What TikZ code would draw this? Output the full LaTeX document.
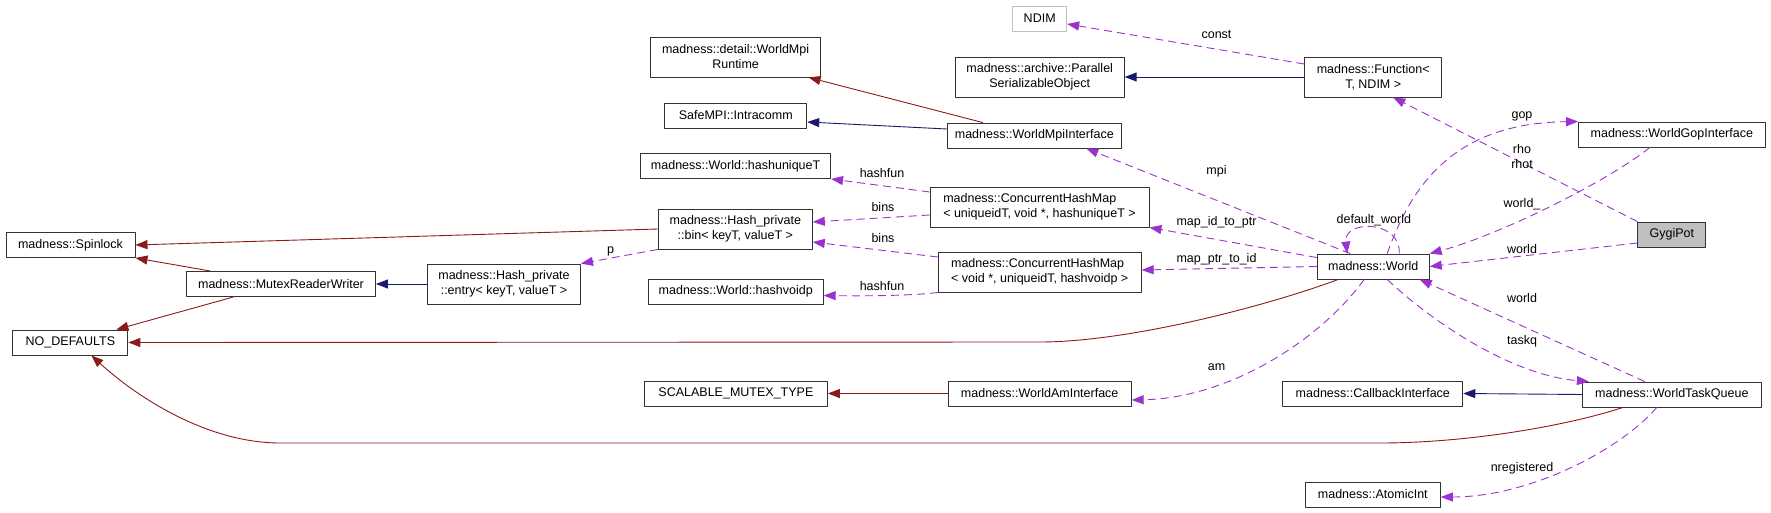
\documentclass[tikz,border=0pt]{standalone}
\usepackage{fontspec}
\setmainfont{Liberation Sans}
\usepackage{tikz}
\usetikzlibrary{arrows.meta,calc}
\definecolor{ColPriv}{RGB}{139,26,26}
\definecolor{ColPub}{RGB}{25,25,112}
\definecolor{ColUse}{RGB}{154,50,205}
\definecolor{ColGray}{RGB}{191,191,191}

\begin{document}
\begin{tikzpicture}[
  x=1pt, y=-1pt,
  >={Triangle[length=12pt,width=9pt]},
  line join=round,
  every node/.style={font=\fontsize{12.5}{15}\selectfont},
  box/.style={draw=black!80, line width=0.9pt, fill=white, inner sep=0pt,
    align=center, minimum height=25pt},
  tallbox/.style={box, minimum height=40pt},
  priv/.style={->, line width=0.9pt, ColPriv},
  pub/.style={->, line width=0.9pt, ColPub},
  uses/.style={->, line width=0.9pt, ColUse, dash pattern=on 8pt off 5pt},
  lbl/.style={inner sep=0pt, text=black, text height=9pt, text depth=2.5pt},
  lbltwo/.style={inner sep=0pt, text=black, align=center}
]
  \useasboundingbox (0,0) rectangle (1771,513);

  % base classes on the left
  \node[box, minimum width=129pt] (spin) at (70.5,245) {madness::Spinlock};
  \node[box, minimum width=115pt] (nodef) at (70.4,342.5) {NO\_DEFAULTS};
  \node[box, minimum width=189pt] (mrw) at (281,284) {madness::MutexReaderWriter};
  \node[tallbox, minimum width=153pt] (entry) at (504,284) {madness::Hash\_private\\::entry< keyT, valueT >};

  % second column
  \node[tallbox, minimum width=170pt] (rt) at (735.6,57) {madness::detail::WorldMpi\\Runtime};
  \node[box, minimum width=142pt] (intra) at (735.8,115.5) {SafeMPI::Intracomm};
  \node[box, minimum width=190pt] (huniq) at (735.6,166) {madness::World::hashuniqueT};
  \node[tallbox, minimum width=154pt] (bin) at (735.3,229) {madness::Hash\_private\\::bin< keyT, valueT >};
  \node[box, minimum width=175pt] (hvoid) at (735.7,291.5) {madness::World::hashvoidp};
  \node[box, minimum width=183pt] (scal) at (735.9,393.5) {SCALABLE\_MUTEX\_TYPE};

  % third column
  \node[box, minimum width=54pt, draw=ColGray] (ndim) at (1039.7,18.5) {NDIM};
  \node[tallbox, minimum width=169pt] (pso) at (1039.7,77) {madness::archive::Parallel\\SerializableObject};
  \node[box, minimum width=174pt] (wmi) at (1034.3,135.5) {madness::WorldMpiInterface};
  \node[tallbox, minimum width=219pt, align=left] (chm1) at (1039.5,207) {madness::ConcurrentHashMap\\< uniqueidT, void *, hashuniqueT >};
  \node[tallbox, minimum width=203pt, align=left] (chm2) at (1039.7,272) {madness::ConcurrentHashMap\\< void *, uniqueidT, hashvoidp >};
  \node[box, minimum width=183pt] (wai) at (1039.7,393.5) {madness::WorldAmInterface};

  % fourth column
  \node[tallbox, minimum width=137pt] (func) at (1373.2,77) {madness::Function<\\T, NDIM >};
  \node[box, minimum width=112pt] (world) at (1373.2,266.5) {madness::World};
  \node[box, minimum width=180pt] (cbi) at (1372.8,393.5) {madness::CallbackInterface};
  \node[box, minimum width=135pt] (atom) at (1372.8,494.5) {madness::AtomicInt};

  % right column
  \node[box, minimum width=186.5pt] (gop) at (1671.8,134.5) {madness::WorldGopInterface};
  \node[box, minimum width=68pt, fill=ColGray] (gygi) at (1671.8,234.5) {GygiPot};
  \node[box, minimum width=179pt] (wtq) at (1671.8,394.5) {madness::WorldTaskQueue};

  % inheritance
  \draw[priv] (bin.west) -- (spin.east);
  \draw[priv] ([xshift=-70.5pt]mrw.north) -- (spin.south east);
  \draw[priv] ([xshift=-47.5pt]mrw.south) -- ([xshift=46pt]nodef.north);
  \draw[priv] ([xshift=-35pt]world.south) .. controls (1270,305) and (1130,342) .. (1040,342) -- (nodef.east);
  \draw[priv] ([xshift=-49pt]wtq.south) .. controls (1570,425) and (1470,443) .. (1380,443) -- (280,443) .. controls (210,443) and (140,400) .. ([xshift=21pt]nodef.south);
  \draw[priv] ([xshift=-51.5pt]wmi.north) -- ([xshift=73pt]rt.south);
  \draw[priv] (wai.west) -- (scal.east);
  \draw[pub] (entry.west) -- (mrw.east);
  \draw[pub] ([yshift=6.5pt]wmi.west) -- ([yshift=-6.5pt]intra.east);
  \draw[pub] (func.west) -- (pso.east);
  \draw[pub] (wtq.west) -- (cbi.east);

  % members
  \draw[uses] (bin.south west) -- (entry.north east) node[lbl] (l-p) at (610.7,250) {p};
  \draw[uses] ([yshift=-8pt]chm1.west) -- ([yshift=7pt]bin.east) node[lbl] (l-bins1) at (883,208) {bins};
  \draw[uses] ([yshift=15pt]chm2.west) -- ([yshift=-13pt]bin.east) node[lbl] (l-bins2) at (883,239) {bins};
  \draw[uses] ([yshift=15pt]chm1.west) -- (huniq.south east) node[lbl] (l-hf1) at (882,174) {hashfun};
  \draw[uses] (chm2.south west) .. controls (910,296) and (860,296) .. ([yshift=-4pt]hvoid.east) node[lbl] (l-hf2) at (882,287) {hashfun};
  \draw[uses] ([yshift=-4pt]world.north west) -- (chm1.south east) node[lbl] (l-mid) at (1216.5,222) {map\_id\_to\_ptr};
  \draw[uses] (world.west) -- ([yshift=2pt]chm2.east) node[lbl] (l-mpid) at (1216.5,259) {map\_ptr\_to\_id};
  \draw[uses] ([xshift=-23pt]world.north) -- ([xshift=52pt]wmi.south) node[lbl] (l-mpi) at (1216.5,171) {mpi};
  \draw[uses] ([yshift=13pt]func.west) -- ([yshift=-5.5pt]ndim.east) node[lbl] (l-const) at (1216.5,35) {const};
  \draw[uses] (gygi.north west) -- ([xshift=20pt]func.south) node[lbltwo] (l-rho) at (1522,157) {rho\\rhot};
  \draw[uses] ([xshift=14pt]world.north) .. controls (1410,190) and (1450,123) .. (gop.north west) node[lbl] (l-gop) at (1522,115) {gop};
  \draw[uses] ([xshift=-22pt]gop.south) .. controls (1610,180) and (1500,235) .. (world.north east) node[lbl] (l-wu) at (1522,204) {world\_};
  \draw[uses] ([xshift=26pt]world.north) .. controls ([xshift=28pt,yshift=34pt]world.north) and ([xshift=-30pt,yshift=34pt]world.north) .. ([xshift=-26pt]world.north) node[lbl] (l-dw) at (1373.8,220) {default\_world};
  \draw[uses] ([yshift=-8.5pt]gygi.west) -- (world.east) node[lbl] (l-w1) at (1522,250) {world};
  \draw[uses] ([xshift=-27pt]wtq.north) -- ([xshift=-10pt]world.south east) node[lbl] (l-w2) at (1522,299) {world};
  \draw[uses] ([xshift=14pt]world.south) .. controls (1430,320) and (1510,375) .. ([xshift=7pt]wtq.north west) node[lbl] (l-tq) at (1522,341) {taskq};
  \draw[uses] ([xshift=-9pt]world.south) .. controls (1320,340) and (1230,398) .. ([yshift=-6.5pt]wai.east) node[lbl] (l-am) at (1216.5,367) {am};
  \draw[uses] ([xshift=-15pt]wtq.south) .. controls (1620,450) and (1530,497) .. ([yshift=-2.5pt]atom.east) node[lbl] (l-nreg) at (1522,468) {nregistered};
\end{tikzpicture}
\end{document}
